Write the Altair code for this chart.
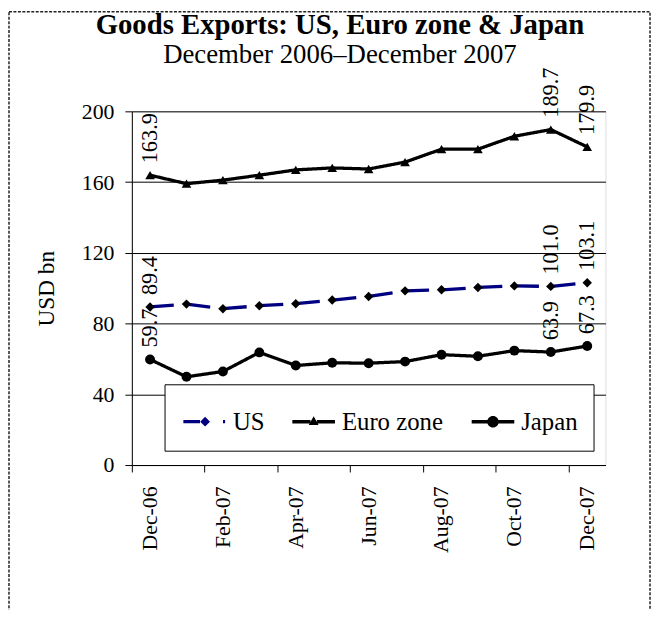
import altair as alt
import pandas as pd

# ---- data ----
months = ["Dec-06", "Jan-07", "Feb-07", "Mar-07", "Apr-07", "May-07", "Jun-07",
          "Jul-07", "Aug-07", "Sep-07", "Oct-07", "Nov-07", "Dec-07"]
us = [89.4, 91.0, 88.4, 90.1, 91.2, 93.3, 95.3, 98.5, 99.1, 100.4, 101.3, 101.0, 103.1]
euro = [163.9, 159.1, 161.1, 163.9, 166.9, 168.0, 167.4, 171.3, 178.6, 178.6, 185.9, 189.7, 179.9]
japan = [59.7, 49.9, 52.9, 63.7, 56.3, 57.8, 57.6, 58.5, 62.4, 61.5, 64.7, 63.9, 67.3]
series_names = ["US", "Euro zone", "Japan"]
labeled_months = ["Dec-06", "Nov-07", "Dec-07"]
y_ticks = [0, 40, 80, 120, 160, 200]
x_ticks = months[::2]

rows = []
for name, vals in zip(series_names, [us, euro, japan]):
    for m, v in zip(months, vals):
        rows.append({"month": m, "value": v, "series": name, "labeled": m in labeled_months})
df = pd.DataFrame(rows)

FONT = "Liberation Serif, Times New Roman, Times, serif"

line_colors = ["#000080", "#000000", "#000000"]
dashes = [[24, 13], [1, 0], [1, 0]]
shapes = ["diamond", "triangle-up", "circle"]
sizes = [90, 100, 135]

legend_us = ("M-1,-0.077L-0.22,-0.077L-0.22,0.077L-1,0.077Z "
             "M0.02,-0.23L0.25,0L0.02,0.23L-0.21,0Z "
             "M0.86,-0.077L0.96,-0.077L0.96,0.077L0.86,0.077Z")
legend_euro = ("M-1,-0.08L-0.15,-0.08L-0.15,0.08L-1,0.08Z "
               "M0.15,-0.08L1,-0.08L1,0.08L0.15,0.08Z "
               "M0,-0.25L0.23,0.15L-0.23,0.15Z")
legend_japan = ("M-1,-0.08L-0.26,-0.08L-0.26,0.08L-1,0.08Z "
                "M0.26,-0.08L1,-0.08L1,0.08L0.26,0.08Z "
                "M-0.27,0A0.27,0.27 0 1 1 0.27,0A0.27,0.27 0 1 1 -0.27,0Z")
legend_shapes = [legend_us, legend_euro, legend_japan]

x_enc = alt.X("month:N", sort=months, bandPosition=0.5,
              scale=alt.Scale(type="band", domain=months, paddingInner=0, paddingOuter=0),
              axis=alt.Axis(values=x_ticks, title=None, labelAngle=270, labelFont=FONT,
                            labelFontSize=22, labelColor="black", tickSize=7, labelPadding=14,
                            bandPosition=0, grid=False, domainColor="black", tickColor="black"))
y_enc = alt.Y("value:Q",
              scale=alt.Scale(domain=[0, 200], nice=False),
              axis=alt.Axis(values=y_ticks, title="USD bn", grid=True, gridColor="black",
                            gridWidth=1, domainColor="black", tickColor="black", tickSize=7,
                            labelPadding=11, labelFont=FONT, labelFontSize=22,
                            labelColor="black", titleFont=FONT, titleFontSize=23.5,
                            titleFontWeight="normal", titleColor="black", titleAngle=270,
                            titleX=-86.3, titleY=178.5, titleAlign="center",
                            titleBaseline="middle"))

base = alt.Chart(df)

border = alt.Chart(alt.Data(values=[{"frame": 1}])).mark_rect(
    fill="transparent", stroke="#222222", strokeWidth=1.5, strokeDash=[3, 1.5], clip=False
).encode(x=alt.value(-124), x2=alt.value(523), y=alt.value(-100.5), y2=alt.value(512))

lines = base.mark_line(strokeWidth=3.3).encode(
    x=x_enc, y=y_enc,
    color=alt.Color("series:N", scale=alt.Scale(domain=series_names, range=line_colors),
                    legend=None),
    strokeDash=alt.StrokeDash("series:N",
                              scale=alt.Scale(domain=series_names, range=dashes), legend=None),
    detail="series:N",
)

points = base.mark_point(filled=True, color="black", opacity=1, strokeWidth=0).encode(
    x=x_enc, y=y_enc,
    shape=alt.Shape("series:N", scale=alt.Scale(domain=series_names, range=shapes), legend=None),
    size=alt.Size("series:N", scale=alt.Scale(domain=series_names, range=sizes), legend=None),
)

leg = alt.Legend(
    orient="none", legendX=33, legendY=275.5, direction="horizontal",
    columns=3, title=None, labelFont=FONT, labelFontSize=25,
    labelColor="black", symbolSize=1849, symbolStrokeWidth=0, symbolOpacity=1,
    symbolOffset=3, labelOffset=7, columnPadding=25, padding=16,
    strokeColor="black", fillColor="white")

legend_layer = base.transform_filter("false").mark_point(
    filled=True, opacity=1, strokeWidth=0
).encode(
    x=x_enc, y=y_enc,
    color=alt.Color("series:N", scale=alt.Scale(domain=series_names, range=line_colors),
                    legend=leg),
    shape=alt.Shape("series:N", scale=alt.Scale(domain=series_names, range=legend_shapes),
                    legend=leg),
)

labels = base.transform_filter("datum.labeled").mark_text(
    angle=270, align="left", baseline="middle", dx=12, font=FONT, fontSize=22.5, color="black"
).encode(x=x_enc, y=y_enc, text=alt.Text("value:Q", format=".1f"))

chart = alt.layer(border, lines, points, labels, legend_layer).resolve_scale(
    shape="independent", color="independent"
).properties(
    width=478, height=357,
    padding={"left": 125, "top": 101.5, "right": 47, "bottom": 143.5},
    autosize=alt.AutoSizeParams(type="none"),
    title=alt.TitleParams(
        text="Goods Exports: US, Euro zone & Japan",
        subtitle="December 2006\u2013December 2007",
        font=FONT, fontSize=29, fontWeight="bold", color="black",
        subtitleFont=FONT, subtitleFontSize=27, subtitleColor="black",
        subtitleFontWeight="normal",
        anchor="middle", frame="group", dx=-29, offset=-57, subtitlePadding=2),
).configure_view(stroke="#808080", strokeWidth=1).configure(background="white")

chart.save("out.html", embed_options={"renderer": "svg", "actions": False})
